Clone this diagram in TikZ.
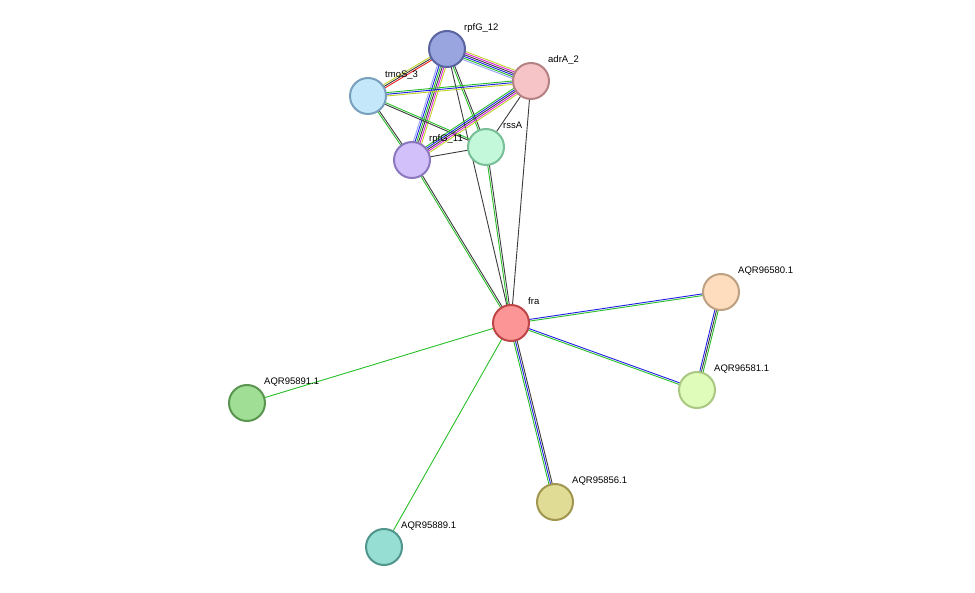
\documentclass[tikz,border=0pt]{standalone}
\usepackage{fontspec}
\setmainfont{Liberation Sans}
\usetikzlibrary{calc}
\definecolor{sgreen}{RGB}{40,190,40}
\definecolor{sblue}{RGB}{30,30,230}
\definecolor{slblue}{RGB}{150,160,250}
\definecolor{syel}{RGB}{190,210,40}
\definecolor{smag}{RGB}{220,30,220}
\definecolor{sred}{RGB}{240,30,30}
\definecolor{sblk}{RGB}{60,60,60}
\newcommand\link[3]{%
  \foreach \c [count=\n] in {#3}{\xdef\nlinks{\n}}%
  \foreach \c [count=\i] in {#3}{%
    \pgfmathsetmacro\off{(\i-(\nlinks+1)/2)*1.7}%
    \draw[\c, line width=0.9pt] ($(#1)!\off pt!90:(#2)$) -- ($(#2)!\off pt!-90:(#1)$);}}
\newcommand\prot[4]{% name, label, fill, border
  \node[protein, fill={#3}, draw={#4}] at (#1) {};
  \node[plabel] at ($(#1)+(17,-18)$) {#2};}
\tikzset{
  protein/.style={circle, minimum size=36pt, inner sep=0pt, line width=2pt},
  plabel/.style={anchor=base west, font=\fontsize{9.5}{11}\selectfont, inner sep=0pt}
}
\begin{document}
\begin{tikzpicture}[x=1pt,y=-1pt]
\useasboundingbox (0,0) rectangle (975,593);
% node positions
\coordinate (r12) at (447,49);
\coordinate (adrA) at (531,81);
\coordinate (tmoS) at (368,96);
\coordinate (r11) at (412,160);
\coordinate (rssA) at (486,147);
\coordinate (fra) at (511,323);
\coordinate (q580) at (721,292);
\coordinate (q581) at (697,390);
\coordinate (q891) at (247,403);
\coordinate (q856) at (555,502);
\coordinate (q889) at (384,547);
% edges
\link{r12}{tmoS}{syel,sblk,sred}
\link{r12}{adrA}{slblue,sgreen,sblue,sblk,smag,syel}
\link{r12}{r11}{slblue,sblue,sgreen,sblk,smag,syel}
\link{r12}{rssA}{sgreen,sblk}
\link{r12}{fra}{sblk}
\link{tmoS}{adrA}{syel,sblue,sgreen}
\link{tmoS}{r11}{sgreen,sblk}
\link{tmoS}{rssA}{sblk,sgreen}
\link{adrA}{r11}{sgreen,sblue,sblk,smag,syel}
\link{adrA}{rssA}{sblk}
\link{adrA}{fra}{sblk}
\link{r11}{rssA}{sblk}
\link{r11}{fra}{sgreen,sblk}
\link{rssA}{fra}{sgreen,sblk}
\link{fra}{q580}{sgreen,sblue}
\link{fra}{q581}{sgreen,sblue}
\link{q580}{q581}{sblue,sblk,sgreen}
\link{fra}{q891}{sgreen}
\link{fra}{q856}{sgreen,sblue,sblk}
\link{fra}{q889}{sgreen}
% proteins
\prot{r12}{rpfG\_12}{rgb,255:red,152;green,165;blue,222}{rgb,255:red,90;green,100;blue,160}
\prot{adrA}{adrA\_2}{rgb,255:red,246;green,196;blue,198}{rgb,255:red,180;green,130;blue,130}
\prot{tmoS}{tmoS\_3}{rgb,255:red,196;green,232;blue,250}{rgb,255:red,120;green,160;blue,190}
\prot{r11}{rpfG\_11}{rgb,255:red,210;green,192;blue,250}{rgb,255:red,140;green,120;blue,190}
\prot{rssA}{rssA}{rgb,255:red,196;green,248;blue,218}{rgb,255:red,120;green,190;blue,150}
\prot{fra}{fra}{rgb,255:red,252;green,150;blue,150}{rgb,255:red,190;green,70;blue,70}
\prot{q580}{AQR96580.1}{rgb,255:red,254;green,220;blue,190}{rgb,255:red,190;green,160;blue,130}
\prot{q581}{AQR96581.1}{rgb,255:red,224;green,252;blue,186}{rgb,255:red,170;green,200;blue,130}
\prot{q891}{AQR95891.1}{rgb,255:red,160;green,222;blue,150}{rgb,255:red,90;green,150;blue,80}
\prot{q856}{AQR95856.1}{rgb,255:red,224;green,220;blue,150}{rgb,255:red,160;green,150;blue,80}
\prot{q889}{AQR95889.1}{rgb,255:red,150;green,222;blue,212}{rgb,255:red,80;green,150;blue,140}
\end{tikzpicture}
\end{document}
